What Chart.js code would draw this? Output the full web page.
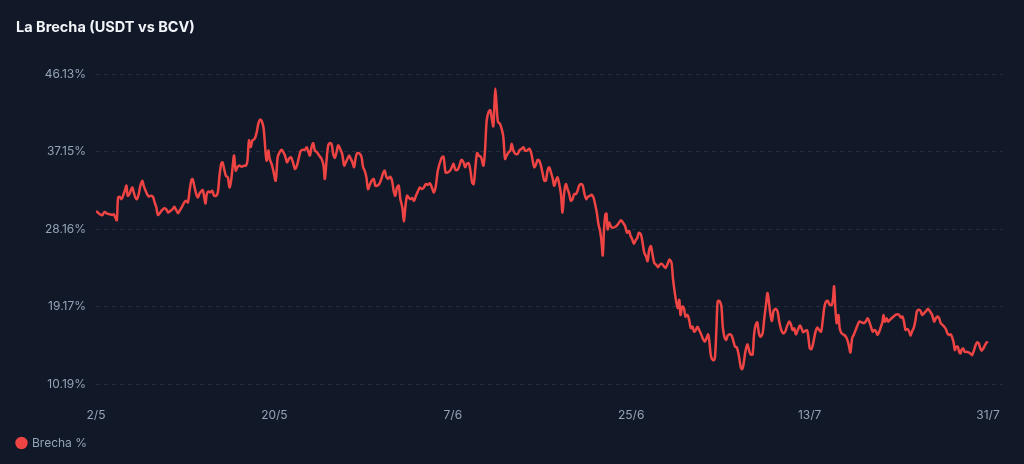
<!DOCTYPE html>
<html lang="es">
<head>
<meta charset="utf-8">
<title>La Brecha (USDT vs BCV)</title>
<script src="https://cdn.jsdelivr.net/npm/chart.js@4.4.1/dist/chart.umd.min.js"></script>
<style>
  html, body { margin: 0; padding: 0; background: #111827; }
  .card { position: relative; width: 1024px; height: 464px; background: #111827; overflow: hidden; }
  .card h3 { position: absolute; left: 16px; top: 18px; margin: 0; font: 700 14.5px Inter, sans-serif; color: #f1f5f9; z-index: 2; }
  .wrap { position: absolute; left: 0; top: 0; width: 1024px; height: 464px; }
</style>
</head>
<body>
<div class="card">
  <h3>La Brecha (USDT vs BCV)</h3>
  <div class="wrap"><canvas id="brecha-chart"></canvas></div>
</div>
<script>
// días desde el 2/5 y brecha %
const dias = [
  0, 0.18, 0.39, 0.62, 0.86, 1.12, 1.39, 1.63, 1.79, 1.96,
  2.10, 2.23, 2.40, 2.57, 2.73, 2.90, 3.07, 3.20, 3.37, 3.50,
  3.67, 3.81, 3.97, 4.14, 4.31, 4.48, 4.68, 4.81, 4.98, 5.15,
  5.32, 5.55, 5.75, 5.92, 6.09, 6.25, 6.49, 6.66, 6.89, 7.09,
  7.26, 7.50, 7.73, 7.90, 8.10, 8.27, 8.43, 8.67, 8.90, 9.10,
  9.27, 9.44, 9.61, 9.74, 9.91, 10.11, 10.28, 10.45, 10.61, 10.78,
  10.92, 11.05, 11.18, 11.35, 11.52, 11.72, 11.92, 12.12, 12.29, 12.46,
  12.63, 12.76, 12.93, 13.10, 13.30, 13.47, 13.63, 13.80, 13.93, 14.10,
  14.27, 14.44, 14.71, 14.94, 15.14, 15.28, 15.44, 15.61, 15.78, 16.01,
  16.22, 16.38, 16.55, 16.72, 16.89, 17.02, 17.12, 17.22, 17.39,
  17.52, 17.72, 17.89, 18.13, 18.33, 18.53, 18.73, 18.90, 19.07, 19.27,
  19.47, 19.67, 19.87, 20.07, 20.27, 20.48, 20.64, 20.84, 21.08, 21.25,
  21.41, 21.58, 21.75, 21.92, 22.08, 22.29, 22.52, 22.76, 22.96, 23.09,
  23.26, 23.43, 23.63, 23.80, 23.93, 24.10, 24.27, 24.43, 24.63, 24.84,
  25.04, 25.21, 25.37, 25.54, 25.71, 25.87, 26.04, 26.18, 26.34, 26.55,
  26.78, 26.95, 27.11, 27.28, 27.45, 27.65, 27.82, 28.02, 28.19, 28.39,
  28.62, 28.79, 28.96, 29.13, 29.29, 29.46, 29.66, 29.87, 30.03, 30.20,
  30.37, 30.54, 30.71, 30.91, 31.07, 31.21, 31.38, 31.54, 31.71, 31.91,
  32.08, 32.28, 32.48, 32.68, 32.88, 33.08, 33.29, 33.49, 33.69, 33.89,
  34.09, 34.29, 34.49,
  34.83, 35.06, 35.27, 35.50, 35.74, 35.94, 36.07, 36.27, 36.47, 36.67,
  36.87, 37.08, 37.24, 37.41, 37.61, 37.78, 37.95, 38.11, 38.28, 38.45,
  38.62, 38.85, 39.09, 39.25, 39.42, 39.62, 39.79, 39.96, 40.09, 40.19,
  40.29, 40.43, 40.56, 40.76, 40.97, 41.10, 41.27, 41.44, 41.64, 41.81,
  41.94, 42.11, 42.31, 42.55, 42.71, 42.95, 43.12, 43.28, 43.48, 43.72,
  43.89, 44.05, 44.22, 44.39, 44.56, 44.72, 44.89, 45.06, 45.23, 45.39,
  45.56, 45.73, 45.90, 46.07, 46.23, 46.40, 46.57, 46.74, 46.91, 47.07,
  47.24, 47.41, 47.58, 47.75, 47.91, 48.08, 48.25, 48.42, 48.59, 48.75,
  48.96, 49.12, 49.29, 49.46, 49.63, 49.83, 50.00, 50.19, 50.36, 50.53,
  50.70, 50.86, 51.00, 51.13, 51.27, 51.40, 51.50, 51.63, 51.77, 51.93,
  52.10, 52.37, 52.61, 52.77,
  52.97, 53.17, 53.38, 53.58, 53.78, 53.94, 54.11, 54.28, 54.45, 54.62,
  54.78, 54.98, 55.15, 55.32, 55.49, 55.65, 55.82, 55.99, 56.12, 56.33,
  56.50, 56.70, 56.90, 57.10, 57.30, 57.47, 57.67, 57.87, 58.07, 58.21,
  58.38, 58.54, 58.71, 58.85, 58.98, 59.15, 59.32, 59.48, 59.68, 59.85,
  60.02, 60.19, 60.35, 60.52, 60.69, 60.86, 61.02, 61.22, 61.42, 61.59,
  61.76, 61.89, 62.03, 62.16, 62.33, 62.46, 62.60, 62.73, 62.90, 63.10,
  63.24, 63.40, 63.57, 63.74, 63.94, 64.14, 64.31, 64.48, 64.65, 64.78,
  64.91, 65.05, 65.18, 65.32, 65.52, 65.72, 65.89, 66.05, 66.25, 66.39,
  66.56, 66.72, 66.89, 67.06, 67.26, 67.43, 67.60, 67.76,
  68.03, 68.20, 68.37, 68.60, 68.77, 68.94, 69.14, 69.34, 69.54, 69.71,
  69.94, 70.11, 70.28, 70.45, 70.61, 70.81, 71.02, 71.18, 71.35, 71.55,
  71.75, 71.89, 72.02, 72.19, 72.36, 72.56, 72.76, 72.96, 73.16, 73.33,
  73.50, 73.67, 73.83, 74.03, 74.24, 74.37, 74.47, 74.60, 74.74, 74.91,
  75.04, 75.24, 75.51, 75.75, 75.95, 76.12, 76.29, 76.45, 76.65, 76.85,
  77.02, 77.25, 77.45, 77.65, 77.86, 78.02, 78.19, 78.36, 78.53, 78.69,
  78.86, 79.03, 79.20, 79.36, 79.46, 79.60, 79.77, 79.93, 80.10, 80.27,
  80.47, 80.67, 80.87, 81.04, 81.21, 81.38, 81.55, 81.68, 81.85, 82.02,
  82.19, 82.35, 82.52, 82.69, 82.82, 83.02, 83.19, 83.36, 83.56, 83.76,
  83.96, 84.16, 84.37, 84.57, 84.74, 84.91, 85.07, 85.24, 85.41, 85.58,
  85.75, 85.91, 86.08, 86.25, 86.42, 86.55, 86.65, 86.79, 86.95, 87.09,
  87.22, 87.32, 87.49, 87.65, 87.82, 88.02, 88.22, 88.39, 88.56, 88.73,
  88.89, 89.06, 89.23, 89.36, 89.53, 89.70, 89.87, 90
];

const brecha = [
  30.26, 30.07, 29.87, 29.75, 30.14, 29.95, 29.87, 29.79, 29.87, 29.48,
  29.17, 31.82, 31.89, 31.62, 32.01, 32.59, 33.18, 32.01, 32.21, 32.59,
  32.98, 32.40, 31.82, 31.62, 32.21, 33.18, 33.76, 33.18, 32.67, 32.21,
  31.93, 32.01, 31.89, 31.23, 30.65, 29.79, 30.07, 30.34, 30.57, 30.45,
  30.07, 30.26, 30.45, 30.73, 30.34, 29.99, 30.26, 30.73, 31.23, 31.43,
  31.23, 32.59, 33.76, 33.96, 33.18, 32.21, 31.82, 32.28, 32.52, 32.67,
  31.82, 31.12, 32.21, 32.52, 32.40, 32.59, 32.01, 32.01, 32.40, 34.34,
  35.71, 35.90, 35.12, 34.34, 34.15, 32.98, 33.76, 35.51, 36.68, 34.93,
  35.32, 35.51, 35.39, 35.51, 35.51, 36.09, 38.43, 37.65, 38.43, 38.62,
  39.40, 40.37, 40.84, 40.68, 39.98, 38.43, 36.87, 36.09, 37.26,
  36.29, 35.71, 34.93, 33.76, 36.48, 37.07, 37.34, 37.07, 36.68, 35.90,
  36.29, 36.48, 35.90, 35.12, 35.51, 36.48, 37.18, 37.34, 37.34, 37.65,
  37.18, 36.68, 37.65, 38.12, 37.26, 37.07, 36.68, 36.29, 35.51, 33.96,
  36.10, 37.85, 38.12, 37.85, 36.87, 36.41, 37.07, 37.85, 37.46, 36.87,
  35.51, 35.90, 36.29, 36.68, 36.29, 35.90, 35.32, 36.29, 36.95, 36.95,
  36.56, 35.32, 34.93, 34.15, 32.79, 33.37, 33.76, 33.96, 33.18, 33.18,
  33.45, 33.96, 34.62, 34.93, 34.23, 33.96, 34.23, 33.76, 32.59, 32.01,
  32.98, 33.18, 31.62, 30.65, 29.02, 30.65, 32.01, 31.82, 31.62, 31.74,
  31.43, 32.01, 32.52, 32.98, 32.79, 32.98, 33.37, 33.29, 33.45, 32.98,
  32.40, 33.18, 34.93,
  36.29, 36.56, 34.73, 34.73, 34.93, 35.40, 35.71, 35.01, 35.01, 35.51,
  36.17, 35.90, 35.32, 35.71, 35.78, 34.93, 33.57, 33.37, 35.32, 36.95,
  36.68, 36.48, 35.51, 37.26, 40.76, 41.74, 41.93, 40.76, 40.06, 42.32,
  44.46, 42.32, 40.57, 40.37, 39.60, 38.82, 36.29, 36.68, 37.07, 37.26,
  38.04, 37.26, 36.87, 36.87, 37.26, 37.46, 37.65, 37.26, 37.26, 37.46,
  37.07, 36.17, 35.32, 35.63, 36.17, 36.10, 35.51, 34.62, 33.76, 33.76,
  34.93, 35.32, 34.73, 34.07, 33.18, 33.76, 34.15, 33.37, 32.21, 30.07,
  32.40, 33.37, 32.79, 32.21, 31.43, 31.62, 32.21, 32.21, 32.59, 33.18,
  33.37, 33.18, 32.21, 31.62, 31.89, 32.01, 32.13, 31.82, 31.04, 30.07,
  28.71, 27.93, 26.76, 25.09, 28.32, 29.87, 29.95, 28.12, 28.90, 28.51,
  28.32, 28.39, 28.63, 28.90,
  29.17, 28.90, 28.51, 27.73, 27.93, 27.34, 26.95, 26.45, 26.84, 27.15,
  27.73, 27.54, 26.57, 25.40, 25.01, 24.43, 25.79, 26.18, 25.40, 24.23,
  24.04, 23.73, 24.04, 24.11, 23.84, 23.65, 24.11, 24.62, 24.23, 22.48,
  20.93, 19.76, 18.98, 19.95, 18.20, 19.18, 18.98, 18.01, 18.20, 17.62,
  16.65, 16.84, 16.26, 16.45, 16.84, 16.45, 16.06, 15.48, 15.09, 15.48,
  15.95, 15.09, 13.54, 13.07, 12.95, 13.34, 16.65, 19.76, 19.84, 19.18,
  16.84, 15.67, 15.29, 15.79, 15.95, 15.79, 15.17, 14.51, 14.43, 13.92,
  13.15, 12.17, 11.90, 12.37, 13.92, 14.78, 14.12, 13.61, 13.61, 15.87,
  17.04, 17.35, 16.06, 15.67, 16.06, 17.81, 19.37, 20.73,
  18.40, 17.50, 18.67, 18.90, 18.59, 17.42, 16.45, 16.06, 16.26, 16.84,
  17.42, 17.11, 16.45, 16.65, 15.95, 16.45, 16.96, 16.65, 16.18, 16.34,
  16.41, 15.48, 14.31, 14.24, 14.90, 16.06, 16.72, 16.45, 16.26, 17.62,
  19.17, 19.76, 19.84, 19.37, 19.37, 20.15, 21.51, 18.98, 17.23, 18.20,
  16.65, 16.06, 15.87, 15.48, 14.70, 13.85, 15.48, 15.87, 16.45, 17.04,
  17.42, 17.35, 17.23, 17.42, 17.81, 17.42, 16.84, 16.26, 16.45, 16.34,
  15.87, 16.26, 16.84, 17.42, 18.20, 17.42, 17.81, 17.42, 17.62, 17.81,
  18.01, 18.20, 18.28, 18.20, 17.89, 18.01, 17.23, 16.45, 16.57, 16.34,
  15.79, 16.34, 16.72, 17.62, 18.59, 18.79, 18.67, 18.20, 18.40, 18.67,
  18.90, 18.59, 18.20, 17.42, 17.81, 18.01, 17.81, 17.23, 17.04, 16.84,
  16.57, 16.06, 15.87, 15.95, 15.48, 14.90, 14.12, 14.51, 14.51, 13.92,
  13.73, 14.12, 14.31, 13.92, 13.92, 13.85, 13.73, 13.54, 14.00, 14.62,
  15.01, 14.90, 14.31, 14.04, 14.31, 14.70, 15.01, 15.09
];

const yTicks = [10.19, 19.17, 28.16, 37.15, 46.13];
const xTickDias = [0, 18, 36, 54, 72, 90];
const xTickLabels = ['2/5', '20/5', '7/6', '25/6', '13/7', '31/7'];

(function () {
  'use strict';

  const TXT = '#94a3b8';
  const RED = '#ef4444';

  Chart.defaults.font.family = "Inter, 'Noto Sans', sans-serif";
  Chart.defaults.color = TXT;

  const puntos = dias.map((d, i) => ({ x: d, y: brecha[i] }));

  new Chart(document.getElementById('brecha-chart'), {
    type: 'line',
    data: {
      datasets: [{
        label: 'Brecha %',
        data: puntos,
        borderColor: RED,
        backgroundColor: RED,
        borderWidth: 2.5,
        pointRadius: 0,
        tension: 0.3,
        fill: false,
      }],
    },
    options: {
      responsive: true, maintainAspectRatio: false, animation: false,
      layout: { padding: { top: 74, right: 19, bottom: 5, left: 0 } },
      plugins: {
        title: { display: false },
        tooltip: { enabled: false },
        legend: {
          position: 'bottom', align: 'start',
          labels: {
            usePointStyle: true, pointStyle: 'circle',
            boxWidth: 9, boxHeight: 7, padding: 17,
            color: TXT, font: { size: 12 },
          },
        },
      },
      scales: {
        x: {
          type: 'linear', min: 0, max: 91.5,
          afterBuildTicks: s => { s.ticks = xTickDias.map(v => ({ value: v })); },
          afterFit: s => { s.height = 36; },
          ticks: {
            color: TXT, font: { size: 12 }, padding: 24,
            maxRotation: 0, autoSkip: false,
            callback: v => xTickLabels[xTickDias.indexOf(v)] || '',
          },
          grid: { display: false, drawTicks: false },
          border: { display: false },
        },
        y: {
          min: 10.19, max: 46.13,
          afterBuildTicks: s => { s.ticks = yTicks.map(v => ({ value: v })); },
          afterFit: s => { s.width = 96; },
          ticks: {
            color: TXT, font: { size: 12 }, padding: 10,
            callback: v => v.toFixed(2) + '%',
          },
          grid: { color: 'rgba(148,163,184,0.16)', drawTicks: false, lineWidth: 1 },
          border: { display: false, dash: [4, 4] },
        },
      },
    },
  });
})();
</script>
</body>
</html>
